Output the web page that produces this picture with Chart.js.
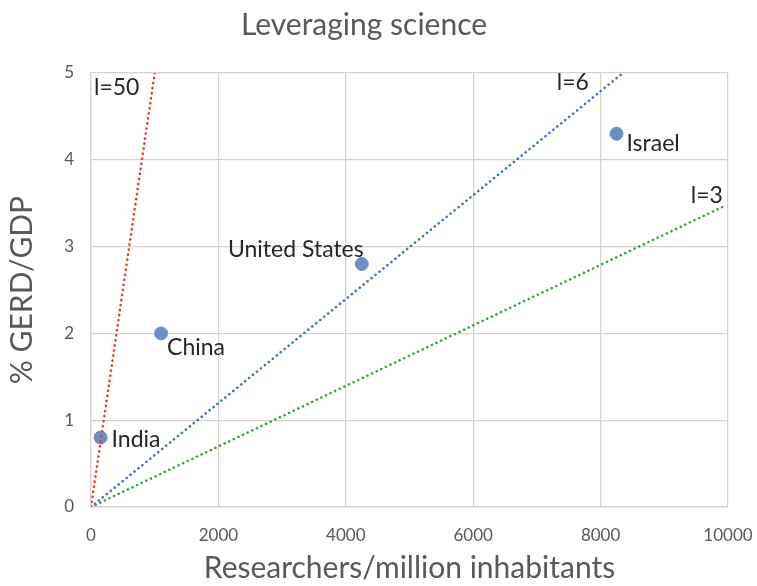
<!DOCTYPE html>
<html lang="en">
<head>
  <meta charset="UTF-8">
  <title>Leveraging science</title>
  <script src="https://cdn.jsdelivr.net/npm/chart.js"></script>
  <style>
    body { margin: 0; background: #fff; }
    #wrap { width: 757px; height: 586px; }
  </style>
</head>
<body>
  <div id="wrap"><canvas id="chart" width="757" height="586"></canvas></div>
  <script>
    // countries: researchers per million inhabitants vs % GERD/GDP
    const countries = ['India', 'China', 'United States', 'Israel'];
    const researchers = [150, 1100, 4250, 8250];
    const gerd = [0.8, 2.0, 2.8, 4.3];

    // leverage lines (from origin to end point)
    const lineNames = ['l=50', 'l=6', 'l=3'];
    const lineEndX = [1000, 8350, 9950];
    const lineEndY = [5, 5, 3.47];
    const lineColors = ['#e8393a', '#4472c4', '#3ca43c'];

    const xTicks = [0, 2000, 4000, 6000, 8000, 10000];
    const yTicks = [0, 1, 2, 3, 4, 5];

    const txt = '#595959';
    const grid = '#d9cfcb';
    const fam = 'Lato, "Open Sans", sans-serif';

    const lineSets = lineNames.map((n, i) => ({
      type: 'scatter',
      label: n,
      data: [{ x: 0, y: 0 }, { x: lineEndX[i], y: lineEndY[i] }],
      showLine: true,
      borderColor: lineColors[i],
      borderWidth: 2.6,
      borderDash: [0.1, 5],
      borderCapStyle: 'round',
      pointRadius: 0
    }));

    // label offsets (pixels) relative to the anchor point
    const pointLabelPos = [
      { dx: 11, dy: 2, align: 'left' },
      { dx: 6, dy: 14, align: 'left' },
      { dx: 2, dy: -14, align: 'right' },
      { dx: 10, dy: 10, align: 'left' }
    ];
    const lineLabelPos = [
      { x: 0, y: 5, dx: 3, dy: 15, align: 'left' },
      { x: 8350, y: 5, dx: -34, dy: 10, align: 'right' },
      { x: 9950, y: 3.47, dx: -2, dy: -10, align: 'right' }
    ];

    const labelPlugin = {
      id: 'labels',
      afterDatasetsDraw(chart) {
        const { ctx, scales: { x, y } } = chart;
        ctx.save();
        ctx.font = '23px ' + fam;
        ctx.fillStyle = '#262626';
        ctx.textBaseline = 'middle';
        countries.forEach((c, i) => {
          const p = pointLabelPos[i];
          ctx.textAlign = p.align;
          ctx.fillText(c, x.getPixelForValue(researchers[i]) + p.dx, y.getPixelForValue(gerd[i]) + p.dy);
        });
        lineNames.forEach((n, i) => {
          const p = lineLabelPos[i];
          ctx.textAlign = p.align;
          ctx.fillText(n, x.getPixelForValue(p.x) + p.dx, y.getPixelForValue(p.y) + p.dy);
        });
        ctx.restore();
      }
    };

    new Chart(document.getElementById('chart'), {
      type: 'scatter',
      data: {
        datasets: [
          ...lineSets,
          {
            label: 'Countries',
            data: researchers.map((v, i) => ({ x: v, y: gerd[i] })),
            backgroundColor: '#6d8fc6',
            borderColor: '#6d8fc6',
            pointRadius: 6.5,
            pointHoverRadius: 6.5
          }
        ]
      },
      options: {
        responsive: false,
        animation: false,
        layout: { padding: { left: 0, right: 29, top: 0, bottom: 0 } },
        plugins: {
          legend: { display: false },
          tooltip: { enabled: false },
          title: {
            display: true,
            text: 'Leveraging science',
            color: txt,
            font: { family: fam, size: 30, weight: 'normal' },
            padding: { top: 7, bottom: 30 }
          }
        },
        scales: {
          x: {
            type: 'linear',
            min: 0, max: 10000,
            afterBuildTicks: s => { s.ticks = xTicks.map(v => ({ value: v })); },
            afterFit: s => { s.height = 79; s.paddingRight = 0; s.paddingLeft = 0; },
            grid: { color: grid, lineWidth: 1.2, drawTicks: false },
            border: { color: grid, width: 1.2 },
            ticks: { color: txt, font: { family: fam, size: 17 }, padding: 18, maxRotation: 0, callback: v => String(v) },
            title: {
              display: true,
              text: 'Researchers/million inhabitants',
              color: txt,
              font: { family: fam, size: 30 },
              padding: { top: 2, bottom: 0 }
            }
          },
          y: {
            type: 'linear',
            min: 0, max: 5,
            afterBuildTicks: s => { s.ticks = yTicks.map(v => ({ value: v })); },
            afterFit: s => { s.width = 91; s.paddingTop = 0; s.paddingBottom = 0; },
            grid: { color: grid, lineWidth: 1.2, drawTicks: false },
            border: { color: grid, width: 1.2 },
            ticks: { color: txt, font: { family: fam, size: 17 }, padding: 17, callback: v => String(v) },
            title: {
              display: true,
              text: '% GERD/GDP',
              color: txt,
              font: { family: fam, size: 30 },
              padding: { top: 4, bottom: 0 }
            }
          }
        }
      },
      plugins: [labelPlugin]
    });
  </script>
</body>
</html>
